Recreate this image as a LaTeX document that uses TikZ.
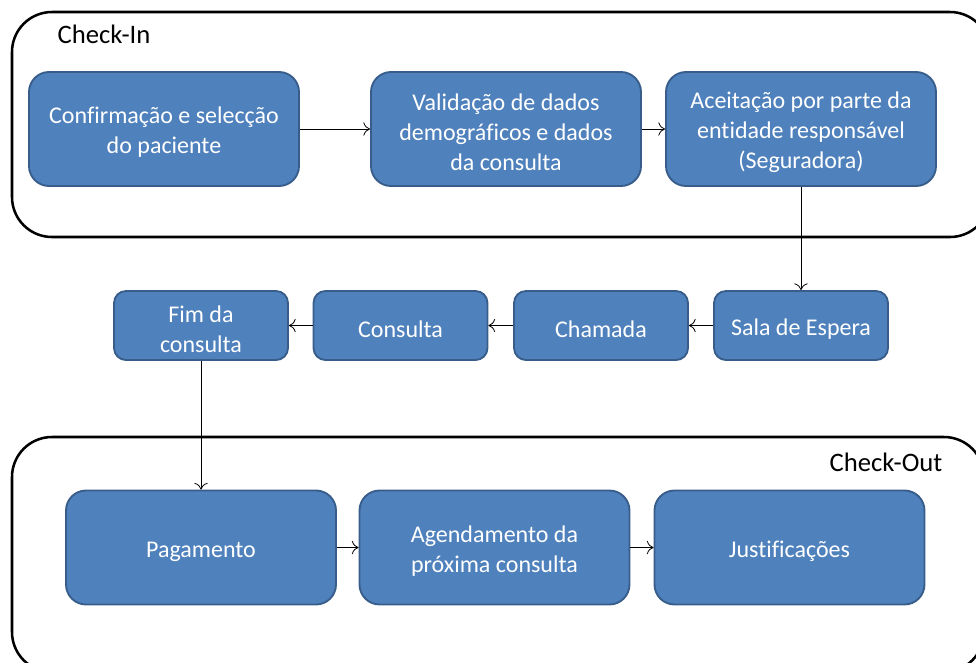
\documentclass[tikz,border=0pt]{standalone}
\usepackage{fontspec}
\setmainfont{Carlito}[Ligatures=NoCommon]
\usetikzlibrary{arrows.meta}
\definecolor{boxfill}{HTML}{4F81BD}
\definecolor{boxline}{HTML}{385D8A}
\newcommand{\boxstrut}{\rule{0pt}{17.6pt}}
\begin{document}
\begin{tikzpicture}[x=0.75pt,y=-0.75pt,
  phase/.style={draw=black,line width=1.9pt,rounded corners=30pt},
  phaselabel/.style={font=\fontsize{20}{24}\selectfont},
  bigbox/.style={draw=boxline,fill=boxfill,line width=1.4pt,rounded corners=15pt,
    text=white,align=center,inner sep=2pt,
    minimum width=202.5pt,minimum height=85.5pt,font=\fontsize{18}{22.5}\selectfont},
  smallbox/.style={bigbox,rounded corners=9pt,minimum width=130.5pt,minimum height=51.75pt},
  flow/.style={-{To[length=5pt,width=10pt]},line width=0.6pt}]
\clip (0,0) rectangle (976,662);
% phases
\draw[phase] (12,12) rectangle (990,237);
\draw[phase] (12,437) rectangle (984,672);
\node[phaselabel] (checkin) at (104,34) {Check-In};
\node[phaselabel] (checkout) at (886,462) {Check-Out};
% check-in
\node[bigbox] (conf) at (164,129) {\boxstrut Confirmação e selecção\\do paciente};
\node[bigbox] (valid) at (506,129) {\boxstrut Validação de dados\\demográficos e dados\\da consulta};
\node[bigbox] (aceit) at (801,129) {\boxstrut Aceitação por parte da\\entidade responsável\\(Seguradora)};
% consulta
\node[smallbox] (sala) at (801,325.5) {\boxstrut Sala de Espera};
\node[smallbox] (chamada) at (601,325.5) {\boxstrut Chamada};
\node[smallbox] (consulta) at (400.5,325.5) {\boxstrut Consulta};
\node[smallbox] (fim) at (201,325.5) {\boxstrut Fim da\\consulta};
% check-out
\node[bigbox] (pag) at (201,547.5) {\boxstrut Pagamento};
\node[bigbox] (agend) at (494.5,547.5) {\boxstrut Agendamento da\\próxima consulta};
\node[bigbox] (just) at (789.5,547.5) {\boxstrut Justificações};
% ligacoes
\draw[flow] (conf) -- (valid);
\draw[flow] (valid) -- (aceit);
\draw[flow] (aceit) -- (sala);
\draw[flow] (sala) -- (chamada);
\draw[flow] (chamada) -- (consulta);
\draw[flow] (consulta) -- (fim);
\draw[flow] (fim) -- (pag);
\draw[flow] (pag) -- (agend);
\draw[flow] (agend) -- (just);
\end{tikzpicture}
\end{document}
